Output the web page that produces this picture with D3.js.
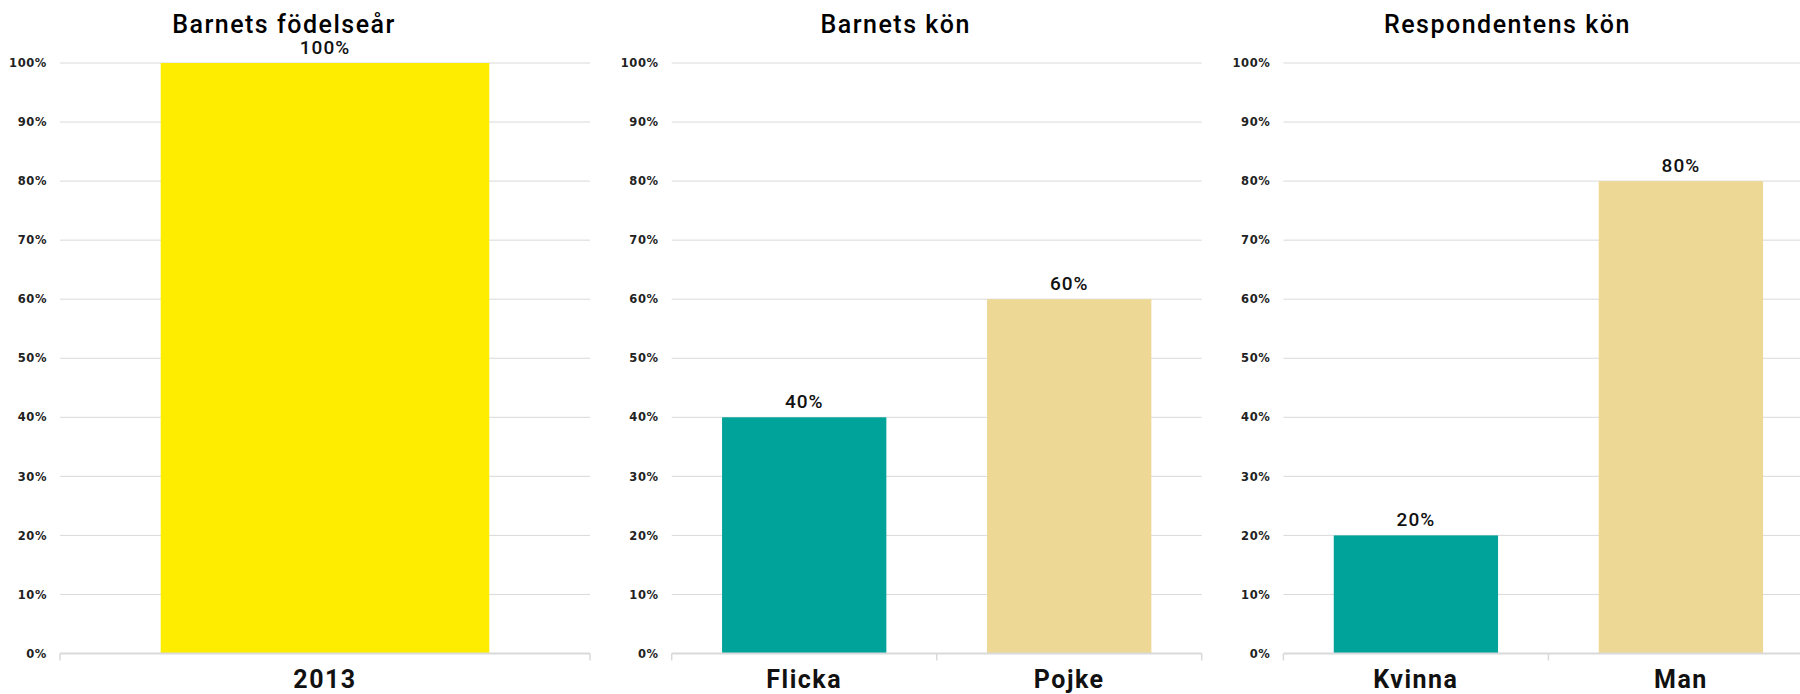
<!DOCTYPE html>
<html>
<head>
<meta charset="utf-8">
<script src="https://cdn.jsdelivr.net/npm/d3@7"></script>
<style>
  body { margin: 0; background: #fff; overflow: hidden; }
  svg { display: block; }
</style>
</head>
<body>
<div id="chart"></div>
<script>
const titles = ['Barnets födelseår', 'Barnets kön', 'Respondentens kön'];

const yearCats = ['2013'];
const yearVals = [1.0];

const childCats = ['Flicka', 'Pojke'];
const childVals = [0.4, 0.6];

const respCats = ['Kvinna', 'Man'];
const respVals = [0.2, 0.8];

const yTicks = [0, 0.1, 0.2, 0.3, 0.4, 0.5, 0.6, 0.7, 0.8, 0.9, 1.0];

const yearColors = ['#ffed00'];
const genderColors = ['#00a39a', '#edd895'];

const W = 1800;
const H = 694;
const panelW = 611.7;
const m = { t: 63, b: 40.5, l: 60, r: 21.7 };
const fmt = d3.format('.0%');

const svg = d3.select('#chart').append('svg').attr('width', W).attr('height', H);

function renderPanel(i, title, cats, vals, colors) {
  const x0 = i * panelW;
  const g = svg.append('g').attr('transform', `translate(${x0},0)`);
  const items = cats.map((c, k) => ({ cat: c, val: vals[k] }));

  const x = d3.scaleBand().domain(cats).range([m.l, panelW - m.r]).paddingInner(0.38).paddingOuter(0.19);
  const y = d3.scaleLinear().domain([0, 1]).range([H - m.b, m.t]);

  // gridlines
  g.append('g')
    .selectAll('line')
    .data(yTicks.filter((d) => d > 0))
    .join('line')
    .attr('x1', m.l)
    .attr('x2', panelW - m.r)
    .attr('y1', (d) => y(d))
    .attr('y2', (d) => y(d))
    .attr('stroke', '#d9d9d9')
    .attr('stroke-width', 1);

  // y axis labels
  const yAxis = g.append('g')
    .attr('transform', `translate(${m.l},0)`)
    .call(d3.axisLeft(y).tickValues(yTicks).tickFormat(fmt).tickSize(0).tickPadding(13));
  yAxis.select('.domain').remove();
  yAxis.selectAll('text')
    .attr('font-family', 'DejaVu Sans')
    .attr('font-size', 11.5)
    .attr('font-weight', 'bold')
    .attr('letter-spacing', 0.6)
    .attr('fill', '#222');

  // bars
  g.append('g')
    .selectAll('rect')
    .data(items)
    .join('rect')
    .attr('x', (d) => x(d.cat))
    .attr('y', (d) => y(d.val))
    .attr('width', x.bandwidth())
    .attr('height', (d) => y(0) - y(d.val))
    .attr('fill', (d, k) => colors[k]);

  // data labels
  g.append('g')
    .selectAll('text')
    .data(items)
    .join('text')
    .attr('x', (d) => x(d.cat) + x.bandwidth() / 2)
    .attr('y', (d) => y(d.val) - 9)
    .attr('text-anchor', 'middle')
    .attr('font-family', 'Roboto')
    .attr('font-size', 19)
    .attr('font-weight', 500)
    .attr('letter-spacing', 1)
    .attr('fill', '#111')
    .text((d) => fmt(d.val));

  // category axis
  const step = x.step();
  const bounds = d3.range(cats.length + 1).map((k) => m.l + k * step);
  g.append('line')
    .attr('x1', m.l)
    .attr('x2', panelW - m.r)
    .attr('y1', y(0))
    .attr('y2', y(0))
    .attr('stroke', '#d9d9d9')
    .attr('stroke-width', 2);
  g.append('g')
    .selectAll('line')
    .data(bounds)
    .join('line')
    .attr('x1', (d) => d)
    .attr('x2', (d) => d)
    .attr('y1', y(0))
    .attr('y2', y(0) + 7)
    .attr('stroke', '#d9d9d9')
    .attr('stroke-width', 1.5);

  g.append('g')
    .selectAll('text')
    .data(cats)
    .join('text')
    .attr('x', (d) => x(d) + x.bandwidth() / 2)
    .attr('y', 688)
    .attr('text-anchor', 'middle')
    .attr('font-family', 'Roboto')
    .attr('font-size', 25)
    .attr('font-weight', 'bold')
    .attr('letter-spacing', 1.5)
    .attr('fill', '#111')
    .text((d) => d);

  // title
  g.append('text')
    .attr('x', 284)
    .attr('y', 33)
    .attr('text-anchor', 'middle')
    .attr('font-family', 'Roboto')
    .attr('font-size', 25)
    .attr('font-weight', 500)
    .attr('letter-spacing', 1.5)
    .attr('fill', '#000')
    .text(title);
}

renderPanel(0, titles[0], yearCats, yearVals, yearColors);
renderPanel(1, titles[1], childCats, childVals, genderColors);
renderPanel(2, titles[2], respCats, respVals, genderColors);
</script>
</body>
</html>
